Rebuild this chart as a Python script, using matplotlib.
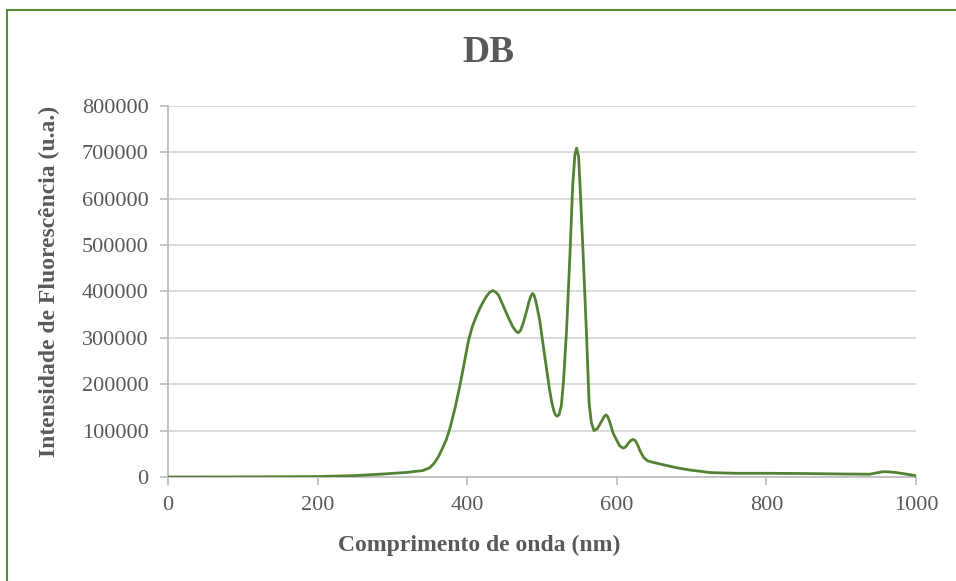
"""Fluorescence emission spectrum for sample DB."""
import matplotlib
matplotlib.use("Agg")
import matplotlib.pyplot as plt
from matplotlib.patches import Rectangle
from matplotlib.ticker import FuncFormatter

# Wavelength (nm) and fluorescence intensity (a.u.)
wavelength = [
    0, 100, 200, 250, 288, 320, 341, 350, 356, 362, 367, 372, 377, 384, 390,
    396, 401.5, 407, 412.7, 417, 421.5, 426, 430, 434, 438, 442, 448, 455,
    461, 465, 468, 471, 475, 479.5, 483, 485.5, 487.5, 489.5, 492, 497, 502,
    506, 510, 513, 516, 518, 520.5, 523, 526, 529, 533, 537.5, 541, 544,
    546.4, 549, 551, 555, 559.7, 563, 566, 569.5, 574, 580, 583, 585.6, 588,
    591, 595, 600, 604, 608.7, 612, 616, 619, 622, 625, 628, 631, 636, 641,
    650, 662, 680, 698, 725, 760, 800, 850, 900, 938, 946, 956, 965, 974,
    990, 1000,
]
intensity = [
    0, 200, 1000, 3000, 6500, 10000, 14000, 20000, 30000, 45000, 62000,
    80000, 105000, 150000, 195000, 245000, 292000, 325000, 348000, 364000,
    378000, 390000, 398000, 402000, 399000, 392000, 370000, 344000, 324000,
    315000, 311000, 315000, 332000, 358000, 380000, 391000, 396000, 392000,
    378000, 338000, 280000, 235000, 190000, 162000, 142000, 134000, 131000,
    135000, 155000, 210000, 320000, 482000, 626000, 695000, 709000, 690000,
    626000, 482000, 302000, 160000, 118000, 100000, 104000, 121000, 130000,
    134000, 130000, 117000, 95000, 79000, 67000, 62000, 65000, 74000, 79000,
    81000, 78000, 69000, 57000, 42000, 35000, 31000, 26500, 20000, 15000,
    9500, 8000, 8000, 7500, 6500, 6000, 8500, 11500, 11000, 9500, 5500,
    3000,
]
x_ticks = [0, 200, 400, 600, 800, 1000]
y_ticks = [0, 100000, 200000, 300000, 400000, 500000, 600000, 700000, 800000]

LINE = "#548235"
TEXT = "#595959"
GRID = "#d9d9d9"
AXIS = "#bfbfbf"

plt.rcParams["font.family"] = ["Liberation Serif", "DejaVu Serif"]

fig = plt.figure(figsize=(9.56, 5.81), dpi=100)
ax = fig.add_axes([0.1757, 0.179, 0.7824, 0.6386])

ax.plot(wavelength, intensity, color=LINE, lw=2.0, solid_capstyle="round",
        solid_joinstyle="round", zorder=3)

ax.set_xlim(0, 1000)
ax.set_ylim(0, 800000)
ax.set_xticks(x_ticks)
ax.set_yticks(y_ticks)
ax.yaxis.set_major_formatter(FuncFormatter(lambda v, _: f"{int(v)}"))

ax.grid(axis="y", color=GRID, lw=1.3, zorder=0)
for side in ("top", "right"):
    ax.spines[side].set_visible(False)
for side in ("left", "bottom"):
    ax.spines[side].set_color(AXIS)
    ax.spines[side].set_linewidth(1.3)
ax.tick_params(axis="both", direction="out", length=6, width=1.3,
               color=AXIS, labelcolor=TEXT, labelsize=16, pad=8)

# Title and axis titles sit centred on the whole chart area
fig.text(488 / 956, 1 - 52 / 581, "DB", fontsize=27, fontweight="bold",
         color=TEXT, ha="center", va="center")
fig.text(479 / 956, 1 - 545 / 581, "Comprimento de onda (nm)", fontsize=17,
         fontweight="bold", color=TEXT, ha="center", va="center")
fig.text(49 / 956, 1 - 281 / 581, "Intensidade de Fluorescência (u.a.)",
         fontsize=17, fontweight="bold", color=TEXT, ha="center",
         va="center", rotation=90)

# Chart frame
fig.patches.append(Rectangle((7 / 956, -0.01), 1.0, 1 - 10 / 581 + 0.01,
                             transform=fig.transFigure, fill=False,
                             edgecolor="#5b8c3a", lw=1.5, zorder=10))

fig.savefig("out.png", dpi=100)
